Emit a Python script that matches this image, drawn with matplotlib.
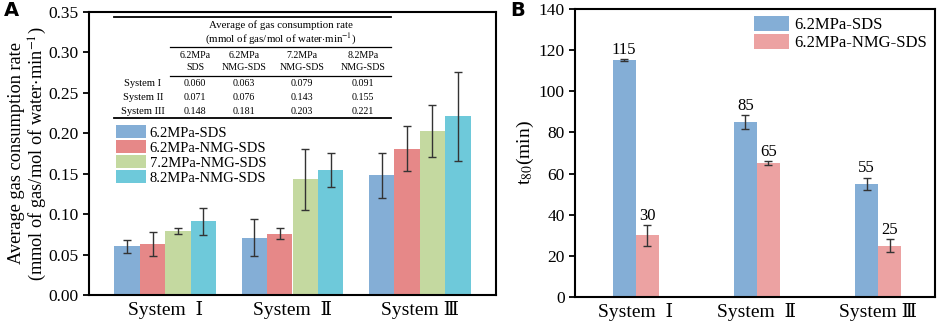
import numpy as np
import matplotlib
matplotlib.use('Agg')
import matplotlib.pyplot as plt

plt.rcParams['font.family'] = ['Liberation Serif', 'DejaVu Serif', 'Noto Sans CJK SC']
plt.rcParams['mathtext.fontset'] = 'stix'

# data
systems = ['System  Ⅰ', 'System  Ⅱ', 'System Ⅲ']
series_a = ['6.2MPa-SDS', '6.2MPa-NMG-SDS', '7.2MPa-NMG-SDS', '8.2MPa-NMG-SDS']
rate = [[0.060, 0.071, 0.148],
        [0.063, 0.076, 0.181],
        [0.079, 0.143, 0.203],
        [0.091, 0.155, 0.221]]
rate_err = [[0.008, 0.023, 0.028],
            [0.015, 0.007, 0.028],
            [0.004, 0.038, 0.032],
            [0.017, 0.021, 0.055]]
tab_cols = ['6.2MPa\nSDS', '6.2MPa\nNMG-SDS', '7.2MPa\nNMG-SDS', '8.2MPa\nNMG-SDS']
tab_rows = ['System I', 'System II', 'System III']

series_b = ['6.2MPa-SDS', '6.2MPa-NMG-SDS']
t80 = [[115, 85, 55],
       [30, 65, 25]]
t80_err = [[0.5, 3.5, 3.0],
           [5.0, 1.0, 3.0]]

cols_a = ['#84aed6', '#e68888', '#c4d9a0', '#6ec9da']
cols_b = ['#84aed6', '#eca2a2']

fig = plt.figure(figsize=(9.41, 3.24), dpi=100)
axA = fig.add_axes([89/941, 1-295/324, (496-89)/941, (295-12)/324])
axB = fig.add_axes([575/941, 1-297/324, (935-575)/941, (297-9)/324])

x = np.arange(1, 4)
w = 0.2
for i in range(4):
    axA.bar(x + (i-1.5)*w, rate[i], w, color=cols_a[i], label=series_a[i],
            yerr=rate_err[i], capsize=3,
            error_kw=dict(ecolor='#333333', elinewidth=1, capthick=1))
axA.set_xlim(0.4, 3.6)
axA.set_ylim(0, 0.35)
axA.set_yticks(np.arange(0, 0.351, 0.05))
axA.set_yticklabels(['%.2f' % v for v in np.arange(0, 0.351, 0.05)])
axA.set_xticks(x)
axA.set_xticklabels(systems)
axA.set_ylabel('Average gas consumption rate\n(mmol of gas/mol of water$\\cdot$min$^{-1}$)', fontsize=13.2,
               linespacing=1.1)
axA.yaxis.set_label_coords(-0.098, 0.5)
axA.legend(loc='upper left', bbox_to_anchor=(0.052, 0.62), frameon=False, fontsize=10.5,
           handlelength=2.05, handleheight=0.95, labelspacing=0.05, handletextpad=0.25, borderaxespad=0)

# inset table
def px(xp, yp):
    return ((xp-89)/407, (295-yp)/283)

tr = axA.transAxes
for y0, xs in [(17, 114), (47, 170), (76, 170), (118, 114)]:
    lw = 1.3 if y0 in (17, 118) else 0.9
    axA.plot([px(xs, y0)[0], px(391, y0)[0]], [px(xs, y0)[1]]*2, transform=tr,
             color='black', lw=lw, clip_on=False)
tfs = 7.2
axA.text(*px(281, 25), 'Average of gas consumption rate', transform=tr, ha='center', va='center', fontsize=7.8)
axA.text(*px(281, 39.5), '(mmol of gas/mol of water$\\cdot$min$^{-1}$)', transform=tr, ha='center', va='center', fontsize=7.8)
col_x = [195, 244, 302, 363]
for cx, lab in zip(col_x, tab_cols):
    axA.text(*px(cx, 61.5), lab, transform=tr, ha='center', va='center', fontsize=tfs, linespacing=1.3)
row_y = [84, 98, 112]
for j, (ry, lab) in enumerate(zip(row_y, tab_rows)):
    axA.text(*px(143, ry), lab, transform=tr, ha='center', va='center', fontsize=7.6)
    for i, cx in enumerate(col_x):
        axA.text(*px(cx, ry), '%.3f' % rate[i][j], transform=tr, ha='center', va='center', fontsize=tfs)

# panel B
wb = 0.19
for i in range(2):
    pos = x + (i-0.5)*wb
    axB.bar(pos, t80[i], wb, color=cols_b[i], label=series_b[i],
            yerr=t80_err[i], capsize=3,
            error_kw=dict(ecolor='#333333', elinewidth=1, capthick=1))
    for p, v, e in zip(pos, t80[i], t80_err[i]):
        axB.text(p, v + e + 0.6, str(v), ha='center', va='bottom', fontsize=12)
axB.set_xlim(0.5, 3.47)
axB.set_ylim(0, 140)
axB.set_yticks(np.arange(0, 141, 20))
axB.set_xticks(x)
axB.set_xticklabels(systems)
axB.set_ylabel('t$_{80}$(min)', fontsize=14, labelpad=2)
axB.legend(loc='upper right', bbox_to_anchor=(0.995, 1.0), frameon=False, fontsize=12,
           handlelength=2.1, handleheight=1.0, labelspacing=0.05, handletextpad=0.3, borderaxespad=0)

for ax in (axA, axB):
    for s in ax.spines.values():
        s.set_linewidth(1.5)
    ax.tick_params(axis='y', direction='out', length=4, width=1.3, labelsize=12.5)
    ax.tick_params(axis='x', length=0, labelsize=14, pad=4)

fig.text(4/941, 1-11/324, 'A', fontsize=14, fontweight='bold', family='DejaVu Sans', va='center')
fig.text(510/941, 1-11/324, 'B', fontsize=14, fontweight='bold', family='DejaVu Sans', va='center')

fig.savefig('out.png', dpi=100)
